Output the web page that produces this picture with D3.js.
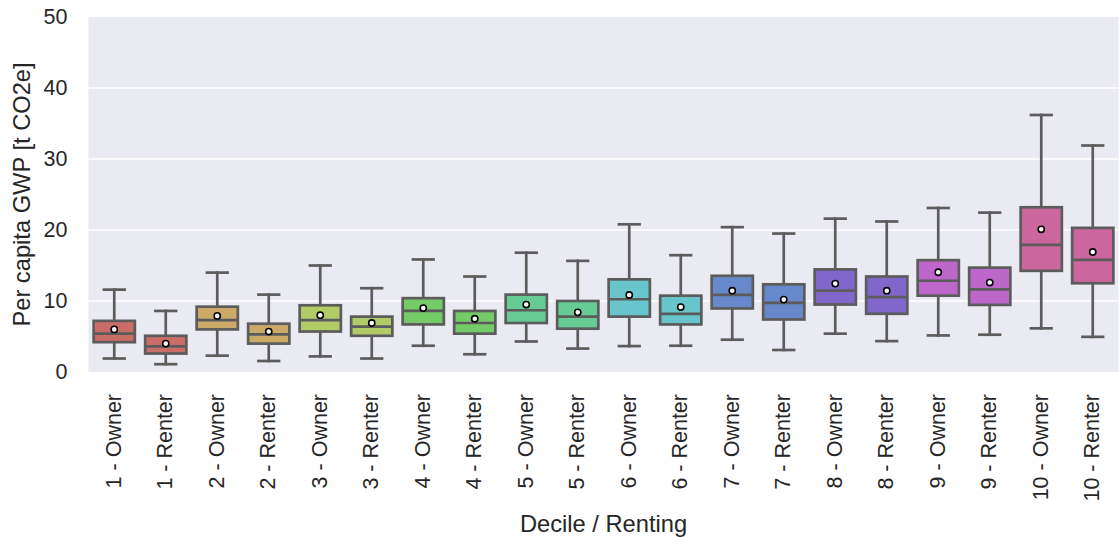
<!DOCTYPE html>
<html>
<head>
<meta charset="utf-8">
<script src="https://cdn.jsdelivr.net/npm/d3@7"></script>
<style>
  html, body { margin: 0; padding: 0; background: #ffffff; }
  svg { display: block; font-family: "Liberation Sans", Arial, sans-serif; }
</style>
</head>
<body>
<svg id="chart" width="1119" height="538"></svg>
<script>
// Per-capita GWP by income decile and tenure (t CO2e)
const categories = [
  "1 - Owner", "1 - Renter", "2 - Owner", "2 - Renter", "3 - Owner",
  "3 - Renter", "4 - Owner", "4 - Renter", "5 - Owner", "5 - Renter",
  "6 - Owner", "6 - Renter", "7 - Owner", "7 - Renter", "8 - Owner",
  "8 - Renter", "9 - Owner", "9 - Renter", "10 - Owner", "10 - Renter"
];
const deciles = [1, 1, 2, 2, 3, 3, 4, 4, 5, 5, 6, 6, 7, 7, 8, 8, 9, 9, 10, 10];
const whiskerLow  = [1.9, 1.1, 2.3, 1.55, 2.2, 1.9, 3.7, 2.5, 4.3, 3.3, 3.65, 3.7, 4.55, 3.1, 5.4, 4.35, 5.15, 5.25, 6.15, 4.95];
const q1          = [4.2, 2.6, 6.0, 4.0, 5.7, 5.1, 6.7, 5.4, 6.9, 6.1, 7.8, 6.7, 8.95, 7.4, 9.5, 8.2, 10.75, 9.45, 14.25, 12.5];
const median      = [5.4, 3.6, 7.3, 5.3, 7.3, 6.4, 8.6, 6.9, 8.7, 7.8, 10.25, 8.2, 10.85, 9.75, 11.45, 10.55, 12.85, 11.65, 17.9, 15.8];
const q3          = [7.2, 5.1, 9.2, 6.8, 9.4, 7.8, 10.4, 8.6, 10.9, 10.0, 13.05, 10.75, 13.55, 12.35, 14.45, 13.45, 15.75, 14.7, 23.2, 20.3];
const whiskerHigh = [11.6, 8.6, 14.0, 10.9, 15.0, 11.8, 15.85, 13.45, 16.8, 15.65, 20.8, 16.45, 20.4, 19.5, 21.6, 21.2, 23.1, 22.45, 36.2, 31.9];
const means       = [6.0, 4.0, 7.9, 5.7, 8.0, 6.9, 9.0, 7.5, 9.5, 8.4, 10.85, 9.15, 11.45, 10.2, 12.45, 11.45, 14.05, 12.6, 20.1, 16.9];
const yTicks = [0, 10, 20, 30, 40, 50];

const rows = categories.map((c, i) => ({
  cat: c, decile: deciles[i],
  lo: whiskerLow[i], q1: q1[i], med: median[i], q3: q3[i], hi: whiskerHigh[i], mean: means[i]
}));

const svg = d3.select("#chart");
const plot = { left: 88.5, right: 1118.5, top: 17, bottom: 372 };
const textColor = "#262626";
const lineGray = "#5c5c5c";
const lw = 2.7;

const x = d3.scaleBand().domain(categories).range([plot.left, plot.right]).padding(0);
const y = d3.scaleLinear().domain([0, 50]).range([plot.bottom, plot.top]);

// hls palette, one hue per decile, desaturated for box fills
const fillFor = d => d3.hsl(((0.01 + (d - 1) / 10) % 1) * 360, 0.65 * 0.75, 0.6).formatHex();

// plot background and horizontal grid
svg.append("rect")
  .attr("x", plot.left).attr("y", plot.top)
  .attr("width", plot.right - plot.left).attr("height", plot.bottom - plot.top)
  .attr("fill", "#eaeaf2");

svg.append("g").selectAll("line")
  .data(yTicks.filter(t => t > 0 && t < 50))
  .join("line")
  .attr("x1", plot.left).attr("x2", plot.right)
  .attr("y1", d => y(d)).attr("y2", d => y(d))
  .attr("stroke", "#ffffff").attr("stroke-width", 1.6);

// y axis
const yAxis = svg.append("g")
  .attr("transform", `translate(${plot.left},0)`)
  .call(d3.axisLeft(y).tickValues(yTicks).tickSize(0).tickPadding(21));
yAxis.select(".domain").remove();
yAxis.selectAll("text")
  .attr("fill", textColor).style("font-size", "21.5px");

// x axis with vertical labels
const xAxis = svg.append("g")
  .attr("transform", `translate(0,${plot.bottom})`)
  .call(d3.axisBottom(x).tickSize(0).tickPadding(0));
xAxis.select(".domain").remove();
xAxis.selectAll("text")
  .attr("fill", textColor).style("font-size", "21.5px")
  .attr("text-anchor", "end")
  .attr("transform", "translate(-1,22) rotate(-90)")
  .attr("x", 0).attr("y", 0).attr("dy", "0.35em");

// boxes
const bw = x.bandwidth() * 0.8;
const capW = bw / 2;
const g = svg.append("g");
const box = g.selectAll("g.box").data(rows).join("g").attr("class", "box")
  .attr("transform", d => `translate(${x(d.cat) + x.bandwidth() / 2},0)`);

box.append("line")
  .attr("x1", 0).attr("x2", 0)
  .attr("y1", d => y(d.q3)).attr("y2", d => y(d.hi))
  .attr("stroke", lineGray).attr("stroke-width", lw).attr("stroke-linecap", "square");
box.append("line")
  .attr("x1", 0).attr("x2", 0)
  .attr("y1", d => y(d.q1)).attr("y2", d => y(d.lo))
  .attr("stroke", lineGray).attr("stroke-width", lw).attr("stroke-linecap", "square");
box.append("line")
  .attr("x1", -capW / 2).attr("x2", capW / 2)
  .attr("y1", d => y(d.hi)).attr("y2", d => y(d.hi))
  .attr("stroke", lineGray).attr("stroke-width", lw).attr("stroke-linecap", "square");
box.append("line")
  .attr("x1", -capW / 2).attr("x2", capW / 2)
  .attr("y1", d => y(d.lo)).attr("y2", d => y(d.lo))
  .attr("stroke", lineGray).attr("stroke-width", lw).attr("stroke-linecap", "square");
box.append("rect")
  .attr("x", -bw / 2).attr("width", bw)
  .attr("y", d => y(d.q3)).attr("height", d => y(d.q1) - y(d.q3))
  .attr("fill", d => fillFor(d.decile))
  .attr("stroke", lineGray).attr("stroke-width", lw);
box.append("line")
  .attr("x1", -bw / 2).attr("x2", bw / 2)
  .attr("y1", d => y(d.med)).attr("y2", d => y(d.med))
  .attr("stroke", lineGray).attr("stroke-width", lw);
box.append("circle")
  .attr("cx", 0).attr("cy", d => y(d.mean)).attr("r", 3.1)
  .attr("fill", "#ffffff").attr("stroke", "#000000").attr("stroke-width", 1.6);

// axis titles
svg.append("text")
  .attr("x", (plot.left + plot.right) / 2).attr("y", 532)
  .attr("text-anchor", "middle").attr("fill", textColor)
  .style("font-size", "23.7px")
  .text("Decile / Renting");

svg.append("text")
  .attr("transform", `translate(30,${(plot.top + plot.bottom) / 2}) rotate(-90)`)
  .attr("text-anchor", "middle").attr("fill", textColor)
  .style("font-size", "23.7px")
  .text("Per capita GWP [t CO2e]");
</script>
</body>
</html>
